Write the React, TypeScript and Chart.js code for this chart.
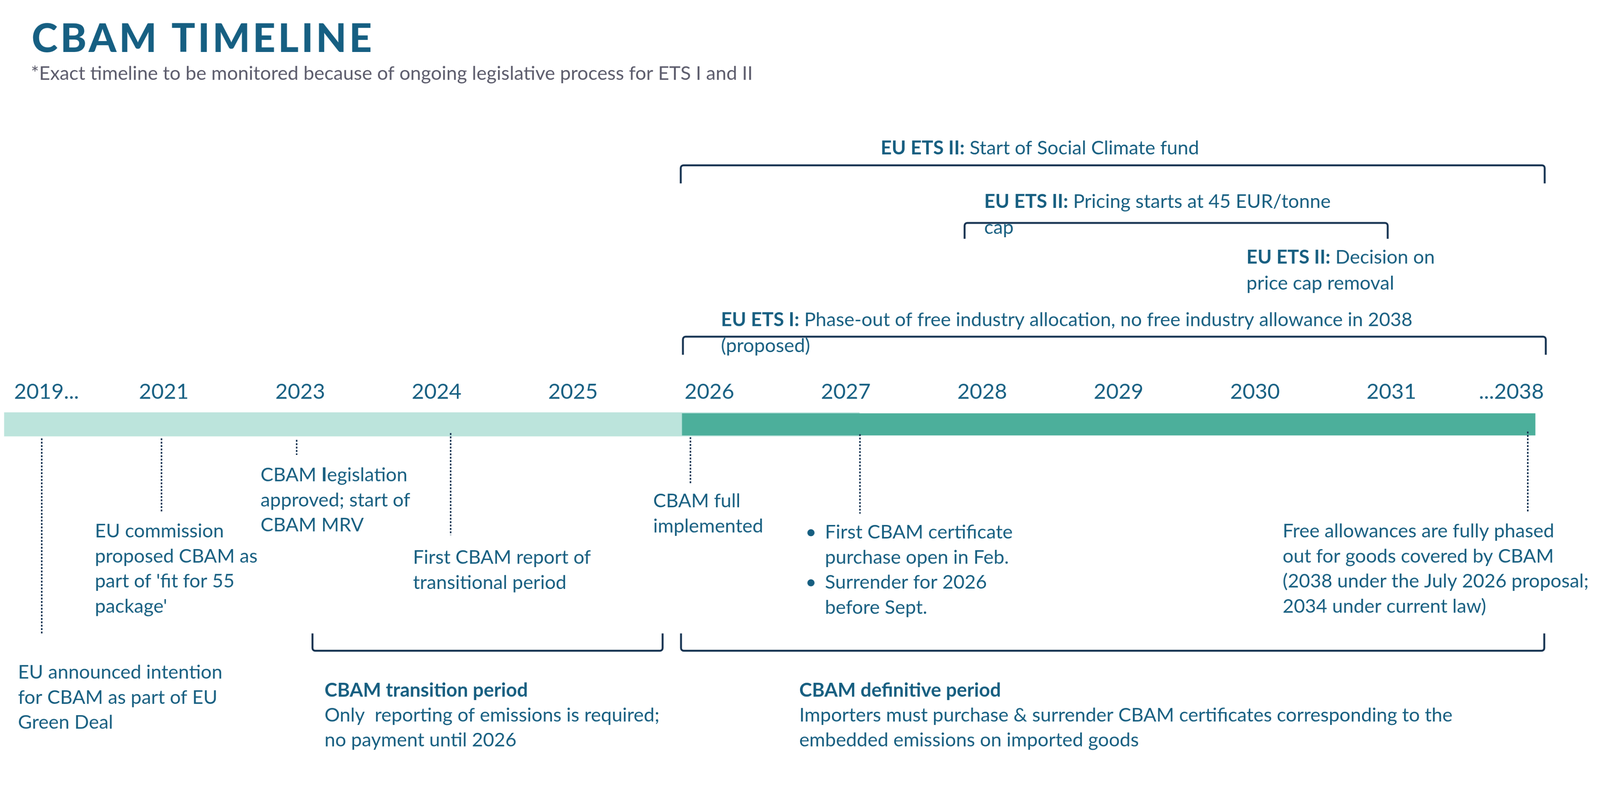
import React, { useEffect, useRef } from "react";
import { Chart, registerables } from "chart.js";

Chart.register(...registerables);

// year labels along the top of the bar, one slot per label
const YEARS = ["2019...", "2021", "2023", "2024", "2025", "2026", "2027", "2028", "2029", "2030", "2031", "...2038"];
const YEAR_SLOTS = [0.14, 1, 2, 3, 4, 5, 6, 7, 8, 9, 10, 10.88];

// the two bar phases (timeline units)
const PHASES = ["Transitional / phase-in", "Definitive period"];
const PHASE_START = [-0.17, 4.8];
const PHASE_END = [6.1, 11.055];

// milestones below the bar
const MILESTONE_AT = [0.105, 0.983, 1.974, 3.103, 4.861, 6.104, 11.0];
const MILESTONE_TEXT = [
  ["EU announced intention", "for CBAM as part of EU", "Green Deal"],
  ["EU commission", "proposed CBAM as", "part of 'fit for 55", "package'"],
  ["CBAM **I**egislation", "approved; start of", "CBAM MRV"],
  ["First CBAM report of", "transitional period"],
  ["CBAM full", "implemented"],
  ["• First CBAM certificate", "purchase open in Feb.", "• Surrender for 2026", "before Sept."],
  ["Free allowances are fully phased", "out for goods covered by CBAM", "(2038 under the July 2026 proposal;", "2034 under current law)"],
];

// EU ETS notes above the bar
const ETS_FROM = [4.79, 6.871, 10, 4.806];
const ETS_TO = [11.124, 9.973, 10, 11.132];
const ETS_TEXT = [
  ["**EU ETS II:** Start of Social Climate fund"],
  ["**EU ETS II:** Pricing starts at 45 EUR/tonne", "cap"],
  ["**EU ETS II:** Decision on", "price cap removal"],
  ["**EU ETS I:** Phase-out of free industry allocation, no free industry allowance in 2038", "(proposed)"],
];

// CBAM periods under the bar
const PERIOD_FROM = [2.09, 4.792];
const PERIOD_TO = [4.657, 11.121];
const PERIOD_TEXT = [
  ["**CBAM transition period**", "Only  reporting of emissions is required;", "no payment until 2026"],
  ["**CBAM definitive period**", "Importers must purchase & surrender CBAM certificates corresponding to the", "embedded emissions on imported goods"],
];

const W = 4250;
const H = 2029;
const FONT = "Lato";
const BODY = 51;
const TEXT = "#165e80";
const NAVY = "#12304f";

// layout in pixels
const MILESTONE_LAYOUT = [
  { top: 1164, bottom: 1683, dx: -63, y: 1802 },
  { top: 1164, bottom: 1358, dx: -177, y: 1427 },
  { top: 1168, bottom: 1208, dx: -96, y: 1278 },
  { top: 1150, bottom: 1421, dx: -100, y: 1497 },
  { top: 1161, bottom: 1283, dx: -99, y: 1347 },
  { top: 1153, bottom: 1364, dx: -145, y: 1430, bullets: true },
  { top: 1146, bottom: 1358, dx: -651, y: 1427 },
];
const ETS_LAYOUT = [
  { dx: 531, y: 410, line: 439, leg: 48, bracket: true },
  { dx: 52, y: 552, line: 592, leg: 42, bracket: true },
  { dx: -385, y: 700, line: 0, leg: 0, bracket: false },
  { dx: 101, y: 866, line: 894, leg: 48, bracket: true },
];
const PERIOD_LAYOUT = [
  { dx: 32, y: 1850, line: 1728, leg: 46 },
  { dx: 314, y: 1850, line: 1728, leg: 46 },
];

function drawRich(ctx: CanvasRenderingContext2D, line: string, x: number, y: number, size: number) {
  let cx = x;
  line.split("**").forEach((part, i) => {
    if (!part) return;
    ctx.font = `${i % 2 ? 700 : 400} ${size}px ${FONT}`;
    ctx.fillText(part, cx, y);
    cx += ctx.measureText(part).width;
  });
}

function drawBlock(ctx: CanvasRenderingContext2D, lines: string[], x: number, y: number, lh: number, bullets = false) {
  lines.forEach((l, i) => {
    const yy = y + i * lh;
    if (bullets) {
      if (l.startsWith("• ")) {
        ctx.font = `400 ${BODY}px ${FONT}`;
        ctx.fillText("•", x, yy);
        l = l.slice(2);
      }
      drawRich(ctx, l, x + 52, yy, BODY);
    } else {
      drawRich(ctx, l, x, yy, BODY);
    }
  });
}

// bracket: dir 1 = legs pointing down, -1 = legs pointing up
function bracket(ctx: CanvasRenderingContext2D, x1: number, x2: number, y: number, leg: number, dir: number) {
  const r = 7;
  ctx.beginPath();
  ctx.moveTo(x1, y + dir * leg);
  ctx.lineTo(x1, y + dir * r);
  ctx.arcTo(x1, y, x1 + r, y, r);
  ctx.lineTo(x2 - r, y);
  ctx.arcTo(x2, y, x2, y + dir * r, r);
  ctx.lineTo(x2, y + dir * leg);
  ctx.stroke();
}

const notesPlugin = {
  id: "cbamNotes",
  afterDatasetsDraw(chart: any) {
    const ctx: CanvasRenderingContext2D = chart.ctx;
    const xs = chart.scales.x;
    const px = (v: number) => xs.getPixelForValue(v);
    ctx.save();
    ctx.textBaseline = "alphabetic";
    ctx.textAlign = "left";

    // title
    ctx.fillStyle = "#165f82";
    ctx.font = `900 105px ${FONT}`;
    (ctx as any).letterSpacing = "7px";
    ctx.fillText("CBAM TIMELINE", 84, 138);
    (ctx as any).letterSpacing = "0px";
    ctx.fillStyle = "#5b5b6b";
    ctx.font = `400 51px ${FONT}`;
    ctx.fillText("*Exact timeline to be monitored because of ongoing legislative process for ETS I and II", 82, 212);

    // dotted milestone lines
    ctx.strokeStyle = NAVY;
    ctx.lineWidth = 4;
    ctx.setLineDash([5, 4]);
    MILESTONE_AT.forEach((v, i) => {
      const m = MILESTONE_LAYOUT[i];
      ctx.beginPath();
      ctx.moveTo(px(v), m.top);
      ctx.lineTo(px(v), m.bottom);
      ctx.stroke();
    });
    ctx.setLineDash([]);

    // brackets
    ctx.lineWidth = 5;
    ETS_FROM.forEach((v, i) => {
      const l = ETS_LAYOUT[i];
      if (l.bracket) bracket(ctx, px(v), px(ETS_TO[i]), l.line, l.leg, 1);
    });
    PERIOD_FROM.forEach((v, i) => {
      const l = PERIOD_LAYOUT[i];
      bracket(ctx, px(v), px(PERIOD_TO[i]), l.line, l.leg, -1);
    });

    // texts
    ctx.fillStyle = TEXT;
    MILESTONE_TEXT.forEach((lines, i) => {
      const m = MILESTONE_LAYOUT[i];
      drawBlock(ctx, lines, px(MILESTONE_AT[i]) + m.dx, m.y, 66.5, !!m.bullets);
    });
    ETS_TEXT.forEach((lines, i) => {
      const l = ETS_LAYOUT[i];
      drawBlock(ctx, lines, px(ETS_FROM[i]) + l.dx, l.y, 68.5);
    });
    PERIOD_TEXT.forEach((lines, i) => {
      const l = PERIOD_LAYOUT[i];
      drawBlock(ctx, lines, px(PERIOD_FROM[i]) + l.dx, l.y, 66);
    });
    ctx.restore();
  },
};

export default function App() {
  const canvasRef = useRef<HTMLCanvasElement | null>(null);

  useEffect(() => {
    document.body.style.margin = "0";
    document.body.style.overflow = "hidden";
    if (!canvasRef.current) return;
    const chart = new Chart(canvasRef.current, {
      type: "bar",
      data: {
        labels: ["CBAM"],
        datasets: [
          {
            label: PHASES[1],
            data: [[PHASE_START[1], PHASE_END[1]]],
            backgroundColor: "#4caf9b",
            barThickness: 58,
            grouped: false,
            order: 0,
          },
          {
            label: PHASES[0],
            data: [[PHASE_START[0], PHASE_END[0]]],
            backgroundColor: "#bce4dc",
            barThickness: 63,
            grouped: false,
            order: 1,
          },
        ],
      } as any,
      options: {
        indexAxis: "y",
        responsive: false,
        animation: false,
        devicePixelRatio: 1,
        layout: { padding: { top: 1003, bottom: 852.6, left: 0, right: 0 } },
        plugins: {
          legend: { display: false },
          tooltip: { enabled: false },
        },
        scales: {
          x: {
            type: "linear",
            position: "top",
            min: -0.2009,
            max: 11.5296,
            grid: { display: false, drawTicks: false },
            border: { display: false },
            afterBuildTicks: (scale: any) => {
              scale.ticks = YEAR_SLOTS.map((v) => ({ value: v }));
            },
            ticks: {
              autoSkip: false,
              maxRotation: 0,
              padding: 3,
              color: "#165f82",
              font: { family: FONT, size: 57 },
              callback: (_v: any, i: number) => YEARS[i],
            },
          },
          y: { display: false },
        },
      } as any,
      plugins: [notesPlugin],
    });
    return () => chart.destroy();
  }, []);

  // fixed 4250x2029 drawing buffer, scaled to the viewport width
  return (
    <div style={{ width: "100vw", height: `${(H / W) * 100}vw`, background: "#fff", overflow: "hidden" }}>
      <canvas
        ref={canvasRef}
        width={W}
        height={H}
        style={{ display: "block", width: "100vw", height: `${(H / W) * 100}vw` }}
      />
    </div>
  );
}
